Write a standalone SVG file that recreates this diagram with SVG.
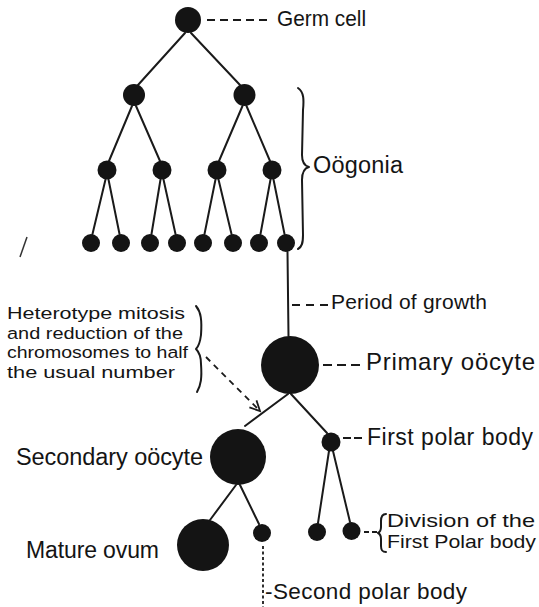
<svg xmlns="http://www.w3.org/2000/svg" width="539" height="607" viewBox="0 0 539 607">
  <style>
    .cell { fill: #141414; }
    .edge { stroke: #1a1a1a; stroke-width: 2; fill: none; stroke-linecap: round; }
    .dash { stroke: #1a1a1a; stroke-width: 1.8; fill: none; }
    .brace { stroke: #1a1a1a; stroke-width: 2; fill: none; stroke-linecap: round; stroke-linejoin: round; }
    .lbl { font-family: "Liberation Sans", Arial, sans-serif; fill: #141414; }
  </style>
  <defs>
    <marker id="openArrow" viewBox="-12 -7 14 14" refX="0" refY="0" markerWidth="14" markerHeight="14" markerUnits="userSpaceOnUse" orient="auto">
      <path d="M-10,-5 L0,0 L-10,5" fill="none" stroke="#1a1a1a" stroke-width="1.8"/>
    </marker>
  </defs>
  <rect width="539" height="607" fill="#ffffff"/>

  <g id="connectors">
    <!-- germ cell to level 2 -->
    <line class="edge" x1="185" y1="33" x2="138" y2="85"/>
    <line class="edge" x1="191" y1="33" x2="240" y2="85"/>
    <!-- level 2 to level 3 -->
    <line class="edge" x1="132" y1="106" x2="109" y2="161"/>
    <line class="edge" x1="136" y1="106" x2="160" y2="161"/>
    <line class="edge" x1="242.5" y1="106" x2="219" y2="161"/>
    <line class="edge" x1="246.5" y1="106" x2="270" y2="161"/>
    <!-- level 3 to level 4 -->
    <line class="edge" x1="105.5" y1="179.5" x2="92.5" y2="234"/>
    <line class="edge" x1="108.5" y1="179.5" x2="119.5" y2="234"/>
    <line class="edge" x1="160.5" y1="179.5" x2="151.5" y2="234"/>
    <line class="edge" x1="163.5" y1="179.5" x2="175.5" y2="234"/>
    <line class="edge" x1="215.5" y1="179.5" x2="204.5" y2="234"/>
    <line class="edge" x1="218.5" y1="179.5" x2="231.5" y2="234"/>
    <line class="edge" x1="270.5" y1="179.5" x2="260.5" y2="234"/>
    <line class="edge" x1="273.5" y1="179.5" x2="284.5" y2="234"/>
    <!-- period of growth -->
    <line class="edge" x1="287.5" y1="252" x2="288.5" y2="336"/>
    <!-- primary oocyte division -->
    <line class="edge" x1="288" y1="394" x2="245" y2="426"/>
    <line class="edge" x1="291" y1="394" x2="327" y2="433"/>
    <!-- secondary oocyte division -->
    <line class="edge" x1="236" y1="485" x2="210" y2="520"/>
    <line class="edge" x1="240" y1="485" x2="259" y2="524"/>
    <!-- first polar body division -->
    <line class="edge" x1="329" y1="451" x2="318" y2="523"/>
    <line class="edge" x1="333" y1="451" x2="350" y2="522"/>

    <!-- label leaders -->
    <line class="dash" x1="207" y1="20" x2="267" y2="20" stroke-dasharray="8 5"/>
    <line class="dash" x1="292" y1="305" x2="328" y2="305" stroke-dasharray="8 6"/>
    <line class="dash" x1="323" y1="365" x2="360" y2="365" stroke-dasharray="9 5"/>
    <line class="dash" x1="343" y1="438" x2="362" y2="438" stroke-dasharray="8 3"/>
    <line class="dash" x1="364" y1="532" x2="377" y2="532" stroke-dasharray="5 3"/>
    <line class="dash" x1="263" y1="546" x2="263" y2="607" stroke-dasharray="3 2.5" stroke-width="2"/>
    <line class="dash" x1="206" y1="357" x2="260" y2="411" stroke-dasharray="6 5" marker-end="url(#openArrow)"/>

    <!-- braces -->
    <path class="brace" d="M298,88 C304,92 304,100 303,110 L302,155 C302,162 305,166 309,167 C305,168 302,172 302,180 L303,235 C303,243 302,247 298,249"/>
    <path class="brace" d="M196,306 C201,312 202,320 201,335 C200,343 199,346 196,349 C199,352 201,356 201,364 C202,378 201,385 197,392"/>
    <path class="brace" d="M386,514 C382,514 381,517 381,521 L381,527 C381,530 380,532 378,533 C380,534 381,536 381,539 L381,546 C381,550 382,552 386,552"/>

    <!-- stray mark -->
    <line x1="20" y1="257" x2="27" y2="237" stroke="#333" stroke-width="1.5"/>
  </g>

  <g id="germ-cell"><circle class="cell" cx="188" cy="20" r="13"/></g>
  <g id="oogonium-2a"><circle class="cell" cx="134" cy="95" r="11"/></g>
  <g id="oogonium-2b"><circle class="cell" cx="244.5" cy="95" r="11"/></g>
  <g id="oogonium-3a"><circle class="cell" cx="107" cy="170" r="9.5"/></g>
  <g id="oogonium-3b"><circle class="cell" cx="162" cy="170" r="9.5"/></g>
  <g id="oogonium-3c"><circle class="cell" cx="217" cy="170" r="9.5"/></g>
  <g id="oogonium-3d"><circle class="cell" cx="272" cy="170" r="9.5"/></g>
  <g id="oogonium-4a"><circle class="cell" cx="91" cy="243" r="9"/></g>
  <g id="oogonium-4b"><circle class="cell" cx="121" cy="243" r="9"/></g>
  <g id="oogonium-4c"><circle class="cell" cx="150" cy="243" r="9"/></g>
  <g id="oogonium-4d"><circle class="cell" cx="177" cy="243" r="9"/></g>
  <g id="oogonium-4e"><circle class="cell" cx="203" cy="243" r="9"/></g>
  <g id="oogonium-4f"><circle class="cell" cx="233" cy="243" r="9"/></g>
  <g id="oogonium-4g"><circle class="cell" cx="259" cy="243" r="9"/></g>
  <g id="oogonium-4h"><circle class="cell" cx="286" cy="243" r="9"/></g>
  <g id="primary-oocyte"><circle class="cell" cx="290" cy="365" r="29"/></g>
  <g id="secondary-oocyte"><circle class="cell" cx="238" cy="457" r="28"/></g>
  <g id="first-polar-body"><circle class="cell" cx="331" cy="442" r="9.5"/></g>
  <g id="mature-ovum"><circle class="cell" cx="203" cy="545" r="26"/></g>
  <g id="second-polar-body"><circle class="cell" cx="262" cy="533" r="9"/></g>
  <g id="polar-division-a"><circle class="cell" cx="317" cy="532" r="9"/></g>
  <g id="polar-division-b"><circle class="cell" cx="351.5" cy="531" r="9"/></g>

  <g id="labels">
    <text class="lbl" x="277" y="26" font-size="21.5" textLength="89" lengthAdjust="spacingAndGlyphs">Germ cell</text>
    <text class="lbl" x="313" y="173" font-size="23.5" textLength="90">Oögonia</text>
    <text class="lbl" x="331" y="309" font-size="21" textLength="156">Period of growth</text>
    <text class="lbl" x="366" y="370" font-size="24" textLength="169">Primary oöcyte</text>
    <g font-size="17.2">
      <text class="lbl" x="7" y="319" textLength="178" lengthAdjust="spacingAndGlyphs">Heterotype mitosis</text>
      <text class="lbl" x="7" y="338.5" textLength="176" lengthAdjust="spacingAndGlyphs">and reduction of the</text>
      <text class="lbl" x="7" y="358" textLength="181" lengthAdjust="spacingAndGlyphs">chromosomes to half</text>
      <text class="lbl" x="7" y="377.5" textLength="168" lengthAdjust="spacingAndGlyphs">the usual number</text>
    </g>
    <text class="lbl" x="16" y="465" font-size="23.5" textLength="187">Secondary oöcyte</text>
    <text class="lbl" x="367" y="445" font-size="23" textLength="166">First polar body</text>
    <text class="lbl" x="26" y="558" font-size="23" textLength="133">Mature ovum</text>
    <text class="lbl" x="387" y="527" font-size="18.2" textLength="148" lengthAdjust="spacingAndGlyphs">Division of the</text>
    <text class="lbl" x="387" y="547.5" font-size="18.2" textLength="149" lengthAdjust="spacingAndGlyphs">First Polar body</text>
    <text class="lbl" x="265" y="599" font-size="22.5" textLength="202">-Second polar body</text>
  </g>
</svg>
